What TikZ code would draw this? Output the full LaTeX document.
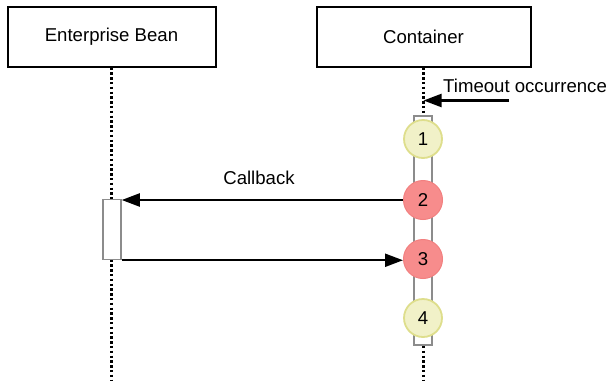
\documentclass[tikz,border=0pt]{standalone}
\usepackage{fontspec}
\setmainfont{Liberation Sans}
\usetikzlibrary{arrows.meta,calc}
\definecolor{yfill}{RGB}{241,241,200}
\definecolor{ydraw}{RGB}{222,222,140}
\definecolor{rfill}{RGB}{247,140,140}
\definecolor{rdraw}{RGB}{242,128,128}
\definecolor{actgray}{RGB}{140,140,140}
\tikzset{
  txt/.style={font=\fontsize{18.6}{22}\selectfont},
  objbox/.style={txt,draw=black,line width=2pt,fill=white,minimum height=60pt,inner sep=0pt},
  lifeline/.style={line width=2.2pt,dash pattern=on 2.4pt off 2.4pt},
  actbox/.style={draw=actgray,line width=1.5pt,fill=white,inner sep=0pt},
  yellowcirc/.style={txt,circle,draw=ydraw,fill=yfill,line width=1.8pt,minimum size=38pt,inner sep=0pt},
  redcirc/.style={txt,circle,draw=rdraw,fill=rfill,line width=1pt,minimum size=39pt,inner sep=0pt},
  msg/.style={line width=2.2pt,-{Triangle[length=18pt,width=13pt]}},
  lbl/.style={txt,inner sep=0pt}
}
\begin{document}
\begin{tikzpicture}[x=1pt,y=-1pt]
\useasboundingbox (0,0) rectangle (609,380);
\fill[white] (0,0) rectangle (609,380);
% objects
\node[objbox,minimum width=208pt] (bean) at (111.5,36.5) {Enterprise Bean};
\node[objbox,minimum width=214pt] (cont) at (423.5,36.5) {Container};
% lifeline ends
\coordinate (beanend) at (bean.south |- 0,380);
\coordinate (contend) at (cont.south |- 0,380);
\draw[lifeline] (bean.south) -- (beanend);
\draw[lifeline] (cont.south) -- (contend);
% activation boxes
\node[actbox,minimum width=18pt,minimum height=229pt] (ab2) at (423,230.5) {};
\node[actbox,minimum width=18pt,minimum height=60pt] (ab1) at (112,229.5) {};
% steps
\node[yellowcirc] (c1) at (423,139) {1};
\node[redcirc] (c2) at (423,200) {2};
\node[redcirc] (c3) at (423,259) {3};
\node[yellowcirc] (c4) at (423,318) {4};
% timeout
\coordinate (tstart) at (509,100.5);
\draw[msg] (tstart) -- (tstart -| cont.south);
\node[lbl,anchor=west] (tlabel) at (443,86) {Timeout occurrence};
% callback
\draw[msg] (c2.west) -- (c2.west -| ab1.east);
\node[lbl] (cblabel) at (259,178) {Callback};
% return
\draw[msg] (ab1.south east) -- (ab1.south east -| c3.west);
\end{tikzpicture}
\end{document}
